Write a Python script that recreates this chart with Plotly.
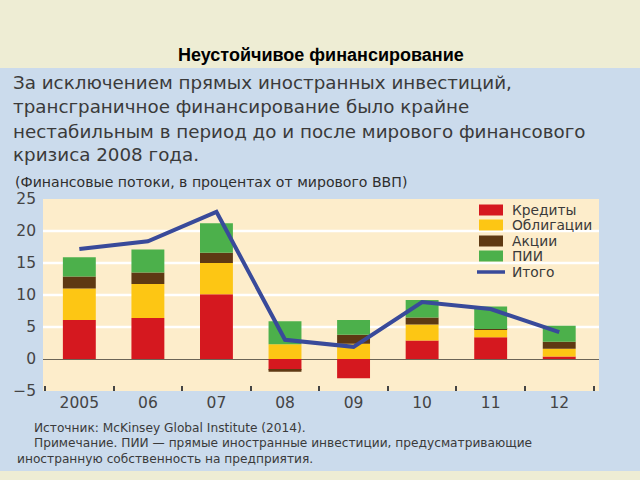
import plotly.graph_objects as go

# ---- data ----
years = ["2005", "06", "07", "08", "09", "10", "11", "12"]
credits = [6.1, 6.4, 10.1, -1.7, -3.0, 2.9, 3.4, 0.4]
bonds = [4.9, 5.3, 4.9, 2.3, 2.4, 2.5, 1.2, 1.2]
equity = [1.9, 1.8, 1.6, -0.3, 1.4, 1.1, 0.1, 1.1]
fdi = [3.0, 3.6, 4.6, 3.6, 2.3, 2.7, 3.5, 2.5]
total = [17.2, 18.4, 23.0, 3.0, 1.9, 8.9, 7.8, 4.2]
series_names = ["Кредиты", "Облигации", "Акции", "ПИИ", "Итого"]
y_ticks = [-5, 0, 5, 10, 15, 20, 25]
grid_vals = [5, 10, 15, 20]

title_text = "Неустойчивое финансирование"
body_lines = [
    "За исключением прямых иностранных инвестиций,",
    "трансграничное финансирование было крайне",
    "нестабильным в период до и после мирового финансового",
    "кризиса 2008 года.",
]
units_text = "(Финансовые потоки, в процентах от мирового ВВП)"
footer_lines = [
    "Источник: McKinsey Global Institute (2014).",
    "Примечание. ПИИ — прямые иностранные инвестиции, предусматривающие",
    "иностранную собственность на предприятия.",
]

# ---- style ----
W, H = 640, 480
L, R, T, B = 43, 599, 199, 391
PW, PH = R - L, B - T
BEIGE = "#eeedd4"
BLUE = "#cbdbec"
PLOT_BG = "#fdedcb"
C_RED = "#d5181f"
C_YEL = "#fdc614"
C_BRN = "#5e3913"
C_GRN = "#4cb04b"
C_LINE = "#394a9a"
TXT = "#3a3a3a"
BODY_FONT = "DejaVu Sans, Arial, sans-serif"


def px(x):
    return (x - L) / PW


def py(y):
    return (B - y) / PH


fig = go.Figure()
bar_colors = [C_RED, C_YEL, C_BRN, C_GRN]
for name, vals, col in zip(series_names[:4], [credits, bonds, equity, fdi], bar_colors):
    fig.add_trace(go.Bar(x=years, y=vals, name=name, marker=dict(color=col, line=dict(width=0)),
                         width=0.48, showlegend=False))
fig.add_trace(go.Scatter(x=years, y=total, name=series_names[4], mode="lines",
                         line=dict(color=C_LINE, width=4), showlegend=False))

shapes = []
# blue panel
shapes.append(dict(type="rect", xref="paper", yref="paper", x0=px(0), x1=px(W), y0=py(471), y1=py(68),
                   fillcolor=BLUE, line=dict(width=0), layer="below"))
# plot bg
shapes.append(dict(type="rect", xref="paper", yref="paper", x0=0, x1=1, y0=0, y1=1,
                   fillcolor=PLOT_BG, line=dict(width=0), layer="below"))
for g in grid_vals:
    shapes.append(dict(type="line", xref="paper", yref="y", x0=0, x1=1, y0=g, y1=g,
                       line=dict(color="white", width=2.5), layer="below"))

annotations = []
annotations.append(dict(text="<b>" + title_text + "</b>", x=px(321), y=py(55), xref="paper", yref="paper",
                        xanchor="center", yanchor="middle", showarrow=False,
                        font=dict(family="Liberation Sans, Arial, sans-serif",
                                  size=18, color="#000000")))
for i, (line, yy) in enumerate(zip(body_lines, [83, 107, 131, 154])):
    annotations.append(dict(text=line, x=px(11), y=py(yy), xref="paper", yref="paper",
                            xanchor="left", yanchor="middle", showarrow=False,
                            font=dict(family=BODY_FONT, size=18.3, color=TXT)))
annotations.append(dict(text=units_text, x=px(13), y=py(182), xref="paper", yref="paper",
                        xanchor="left", yanchor="middle", showarrow=False,
                        font=dict(family=BODY_FONT, size=14.1, color="#2e2e2e")))
for line, xx, yy in zip(footer_lines, [32, 32, 15], [428, 443, 459]):
    annotations.append(dict(text=line, x=px(xx), y=py(yy), xref="paper", yref="paper",
                            xanchor="left", yanchor="middle", showarrow=False,
                            font=dict(family=BODY_FONT, size=12.2, color=TXT)))

# custom legend
leg_y = [210, 225, 241, 256, 272]
for i, (name, yy) in enumerate(zip(series_names, leg_y)):
    if i < 4:
        shapes.append(dict(type="rect", xref="paper", yref="paper", x0=px(479), x1=px(503),
                           y0=py(yy + 5.5), y1=py(yy - 5.5), fillcolor=bar_colors[i], line=dict(width=0)))
    else:
        shapes.append(dict(type="line", xref="paper", yref="paper", x0=px(477), x1=px(505),
                           y0=py(yy), y1=py(yy), line=dict(color=C_LINE, width=3.5)))
    annotations.append(dict(text=name, x=px(510), y=py(yy), xref="paper", yref="paper",
                            xanchor="left", yanchor="middle", showarrow=False,
                            font=dict(family=BODY_FONT, size=13.8, color=TXT)))

fig.update_layout(
    width=W, height=H,
    margin=dict(l=L, r=W - R, t=T, b=H - B, pad=0),
    paper_bgcolor=BEIGE, plot_bgcolor="rgba(0,0,0,0)",
    barmode="relative",
    shapes=shapes, annotations=annotations,
    showlegend=False,
    xaxis=dict(type="category", range=[-0.53, 7.58], showgrid=False, zeroline=False,
               ticks="inside", tickson="boundaries", ticklen=5, tickwidth=1.5, tickcolor="#444",
               showline=False, tickfont=dict(family=BODY_FONT, size=15.5, color="#444")),
    yaxis=dict(range=[-5, 25], tickvals=y_ticks, showgrid=False, zeroline=True,
               zerolinecolor="#6b6456", zerolinewidth=1.2, showline=False, ticks="",
               ticklabelstandoff=6, tickfont=dict(family=BODY_FONT, size=15.5, color="#444")),
)

fig.write_html("out.html", config={"displayModeBar": False},
               post_script="document.body.style.margin='0';document.body.style.overflow='hidden';")
